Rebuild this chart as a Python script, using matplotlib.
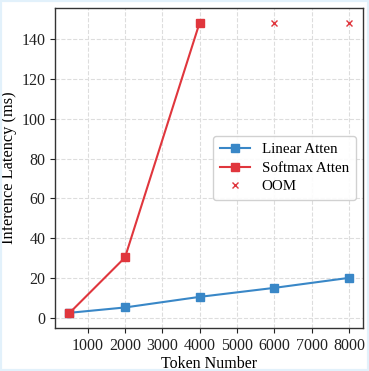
import matplotlib
matplotlib.use("Agg")
import matplotlib.pyplot as plt
from matplotlib.patches import Rectangle

plt.rcParams['font.family'] = ['Liberation Serif', 'DejaVu Serif']

tokens = [500, 2000, 4000, 6000, 8000]
linear_latency = [2.8, 5.5, 10.8, 15.3, 20.3]
softmax_tokens = [500, 2000, 4000]
softmax_latency = [2.5, 30.5, 148]
oom_tokens = [6000, 8000]
oom_latency = [148, 148]

blue = '#3987c7'
red = '#e0363d'

fig = plt.figure(figsize=(3.69, 3.71), dpi=100)
ax = fig.add_axes([55/369, 43/371, 308/369, 320/371])

ax.plot(tokens, linear_latency, color=blue, marker='s', markersize=5.5, linewidth=1.5, label='Linear Atten')
ax.plot(softmax_tokens, softmax_latency, color=red, marker='s', markersize=5.5, linewidth=1.5, label='Softmax Atten')
ax.plot(oom_tokens, oom_latency, linestyle='none', marker='x', color=red, markersize=4.5, markeredgewidth=1.0, label='OOM')

ax.set_xticks([1000, 2000, 3000, 4000, 5000, 6000, 7000, 8000])
ax.set_yticks([0, 20, 40, 60, 80, 100, 120, 140])
ax.tick_params(labelsize=11.5, colors='#222222', length=3.5, width=0.8)
ax.grid(True, linestyle='--', color='#dddddd', linewidth=0.8)
ax.set_axisbelow(True)
for s in ax.spines.values():
    s.set_color('#333333')
    s.set_linewidth(1.0)

ax.set_xlabel('Token Number', fontsize=11.5, labelpad=2)
ax.set_ylabel('Inference Latency (ms)', fontsize=11.8, labelpad=3)

leg = ax.legend(loc='center right', bbox_to_anchor=(1.0, 0.5), fontsize=10.8,
                frameon=True, framealpha=0.9, edgecolor='#cccccc', fancybox=True,
                handlelength=2.0, borderpad=0.45, labelspacing=0.35, handletextpad=0.8)

fig.patches.append(Rectangle((0, 0), 1, 1, transform=fig.transFigure, fill=False,
                             edgecolor='#e2f1fb', linewidth=3))

fig.savefig('out.png', dpi=100)
